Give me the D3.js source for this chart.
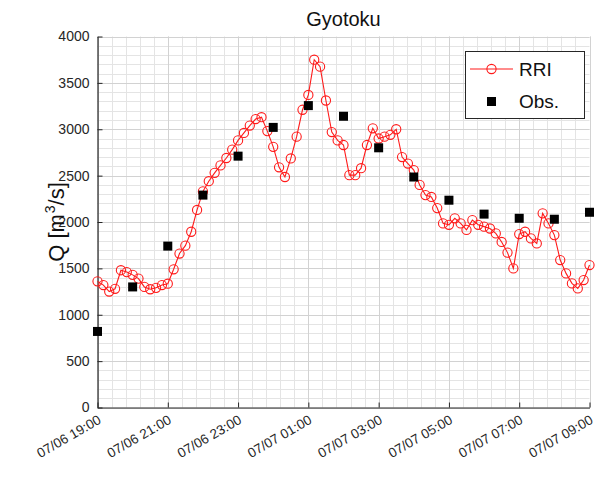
<!DOCTYPE html>
<html>
<head>
<meta charset="utf-8">
<script src="https://cdn.jsdelivr.net/npm/d3@7"></script>
<style>
  html, body { margin: 0; padding: 0; background: #fff; }
  svg { display: block; font-family: "Liberation Sans", Arial, sans-serif; }
</style>
</head>
<body>
<svg id="chart" width="600" height="489"></svg>
<script>
// Simulated discharge (RRI), every 10 minutes from 07/06 19:00
const rriStart = "2019-07-06T19:00";
const rriStepMin = 10;
const rriValues = [
  1360, 1320, 1250, 1280, 1480, 1460, 1430, 1390, 1300, 1275, 1290, 1320,
  1335, 1490, 1660, 1745, 1895, 2130, 2330, 2440, 2530, 2610, 2690, 2780,
  2880, 2960, 3040, 3110, 3130, 2980, 2810, 2590, 2485, 2685, 2920, 3210,
  3370, 3750, 3675, 3310, 2970, 2880, 2830, 2505, 2505, 2580, 2830, 3010,
  2900, 2920, 2940, 3000, 2700, 2630, 2560, 2400, 2290, 2270, 2150, 1985,
  1970, 2040, 1985, 1915, 2020, 1970, 1950, 1930, 1877, 1785, 1670, 1500,
  1870, 1895, 1823, 1769, 2093, 1985, 1859, 1590, 1446, 1338, 1284, 1374,
  1536
];

// Observed discharge, hourly
const obsTimes = [
  "2019-07-06T19:00", "2019-07-06T20:00", "2019-07-06T21:00", "2019-07-06T22:00",
  "2019-07-06T23:00", "2019-07-07T00:00", "2019-07-07T01:00", "2019-07-07T02:00",
  "2019-07-07T03:00", "2019-07-07T04:00", "2019-07-07T05:00", "2019-07-07T06:00",
  "2019-07-07T07:00", "2019-07-07T08:00", "2019-07-07T09:00"
];
const obsValues = [
  820, 1300, 1740, 2290, 2710, 3020, 3255, 3140, 2800, 2485, 2235, 2085,
  2040, 2030, 2105
];

const yTicks = [0, 500, 1000, 1500, 2000, 2500, 3000, 3500, 4000];
const xTickTimes = [
  "2019-07-06T19:00", "2019-07-06T21:00", "2019-07-06T23:00", "2019-07-07T01:00",
  "2019-07-07T03:00", "2019-07-07T05:00", "2019-07-07T07:00", "2019-07-07T09:00"
];
const xTickLabels = [
  "07/06 19:00", "07/06 21:00", "07/06 23:00", "07/07 01:00",
  "07/07 03:00", "07/07 05:00", "07/07 07:00", "07/07 09:00"
];
const titleText = "Gyotoku";
const seriesNames = ["RRI", "Obs."];

const parse = d3.timeParse("%Y-%m-%dT%H:%M");
const t0 = parse(rriStart);
const rri = rriValues.map((v, i) => ({ t: d3.timeMinute.offset(t0, i * rriStepMin), v }));
const obs = obsTimes.map((s, i) => ({ t: parse(s), v: obsValues[i] }));
const majorX = xTickTimes.map(parse);

const plotLeft = 97.5, plotRight = 589.5, plotTop = 36.5, plotBottom = 407.5;
const svg = d3.select("#chart");

const x = d3.scaleTime()
  .domain([majorX[0], majorX[majorX.length - 1]])
  .range([plotLeft, plotRight]);
const y = d3.scaleLinear().domain([0, 4000]).range([plotBottom, plotTop]);

// minor grid: 5 subdivisions per 2-hour major step, 100 m3/s vertically
const minorX = d3.range(0, 14 * 60 + 1, 24).map(m => d3.timeMinute.offset(majorX[0], m));
const minorY = d3.range(0, 4001, 100);

const grid = svg.append("g");
const px = v => Math.round(v) + 0.5;
grid.selectAll(".gy-minor").data(minorY).join("line")
  .attr("x1", plotLeft).attr("x2", plotRight)
  .attr("y1", d => px(y(d))).attr("y2", d => px(y(d)))
  .attr("stroke", "#e4e4e4").attr("stroke-width", 1);
grid.selectAll(".gx-minor").data(minorX).join("line")
  .attr("y1", plotTop).attr("y2", plotBottom)
  .attr("x1", d => px(x(d))).attr("x2", d => px(x(d)))
  .attr("stroke", "#e4e4e4").attr("stroke-width", 1);
grid.selectAll(".gy-major").data(yTicks).join("line")
  .attr("x1", plotLeft).attr("x2", plotRight)
  .attr("y1", d => px(y(d))).attr("y2", d => px(y(d)))
  .attr("stroke", "#d2d2d2").attr("stroke-width", 1);
grid.selectAll(".gx-major").data(majorX).join("line")
  .attr("y1", plotTop).attr("y2", plotBottom)
  .attr("x1", d => px(x(d))).attr("x2", d => px(x(d)))
  .attr("stroke", "#d2d2d2").attr("stroke-width", 1);

// axes
const axisColor = "#262626";
const yAxis = svg.append("g")
  .attr("transform", `translate(${plotLeft},0)`)
  .call(d3.axisLeft(y).tickValues(yTicks).tickFormat(d3.format("d"))
    .tickSizeInner(-5).tickSizeOuter(0).tickPadding(8));
yAxis.selectAll("text").attr("font-size", 14).attr("fill", axisColor)
  .attr("font-family", "Liberation Sans, Arial, sans-serif");

const xAxis = svg.append("g")
  .attr("transform", `translate(0,${plotBottom})`)
  .call(d3.axisBottom(x).tickValues(majorX).tickSizeInner(-5).tickSizeOuter(0)
    .tickFormat((d, i) => xTickLabels[i]));
xAxis.selectAll("text")
  .attr("font-size", 13.5).attr("fill", axisColor)
  .attr("font-family", "Liberation Sans, Arial, sans-serif")
  .attr("text-anchor", "end")
  .attr("dy", null).attr("y", 0)
  .attr("transform", "translate(4,15) rotate(-30)");
[yAxis, xAxis].forEach(a => {
  a.select(".domain").attr("stroke", axisColor).attr("stroke-width", 1.2);
  a.selectAll(".tick line").attr("stroke", axisColor);
});

// RRI line and markers
const red = "#ff1a1a";
const line = d3.line().x(d => x(d.t)).y(d => y(d.v));
svg.append("path").datum(rri)
  .attr("d", line).attr("fill", "none").attr("stroke", red).attr("stroke-width", 1.1);
svg.append("g").selectAll("circle").data(rri).join("circle")
  .attr("cx", d => x(d.t)).attr("cy", d => y(d.v)).attr("r", 4.6)
  .attr("fill", "none").attr("stroke", red).attr("stroke-width", 1.1);

// observed markers
svg.append("g").selectAll("rect").data(obs).join("rect")
  .attr("x", d => x(d.t) - 4.5).attr("y", d => y(d.v) - 4.5)
  .attr("width", 9).attr("height", 9).attr("fill", "#000");

// title and y label
svg.append("text").attr("x", (plotLeft + plotRight) / 2).attr("y", 26)
  .attr("text-anchor", "middle").attr("font-size", 20).attr("fill", "#111")
  .text(titleText);
const yl = svg.append("text")
  .attr("transform", `translate(64,${(plotTop + plotBottom) / 2}) rotate(-90)`)
  .attr("text-anchor", "middle").attr("font-size", 22).attr("fill", "#111");
yl.append("tspan").text("Q [m");
yl.append("tspan").attr("font-size", 14).attr("dx", 1).attr("dy", -9).text("3");
yl.append("tspan").attr("dy", 9).text("/s]");

// legend
const lg = svg.append("g");
lg.append("rect").attr("x", 465.5).attr("y", 51.5).attr("width", 119).attr("height", 67)
  .attr("fill", "#fff").attr("stroke", axisColor).attr("stroke-width", 1);
lg.append("line").attr("x1", 470).attr("x2", 513).attr("y1", 69).attr("y2", 69)
  .attr("stroke", red).attr("stroke-width", 1.1);
lg.append("circle").attr("cx", 491.5).attr("cy", 69).attr("r", 4.6)
  .attr("fill", "none").attr("stroke", red).attr("stroke-width", 1.1);
lg.append("rect").attr("x", 487).attr("y", 97).attr("width", 9).attr("height", 9).attr("fill", "#000");
lg.append("text").attr("x", 519).attr("y", 69).attr("dy", "0.35em")
  .attr("font-size", 19).attr("fill", "#111").text(seriesNames[0]);
lg.append("text").attr("x", 519).attr("y", 101.5).attr("dy", "0.35em")
  .attr("font-size", 19).attr("fill", "#111").text(seriesNames[1]);
</script>
</body>
</html>
